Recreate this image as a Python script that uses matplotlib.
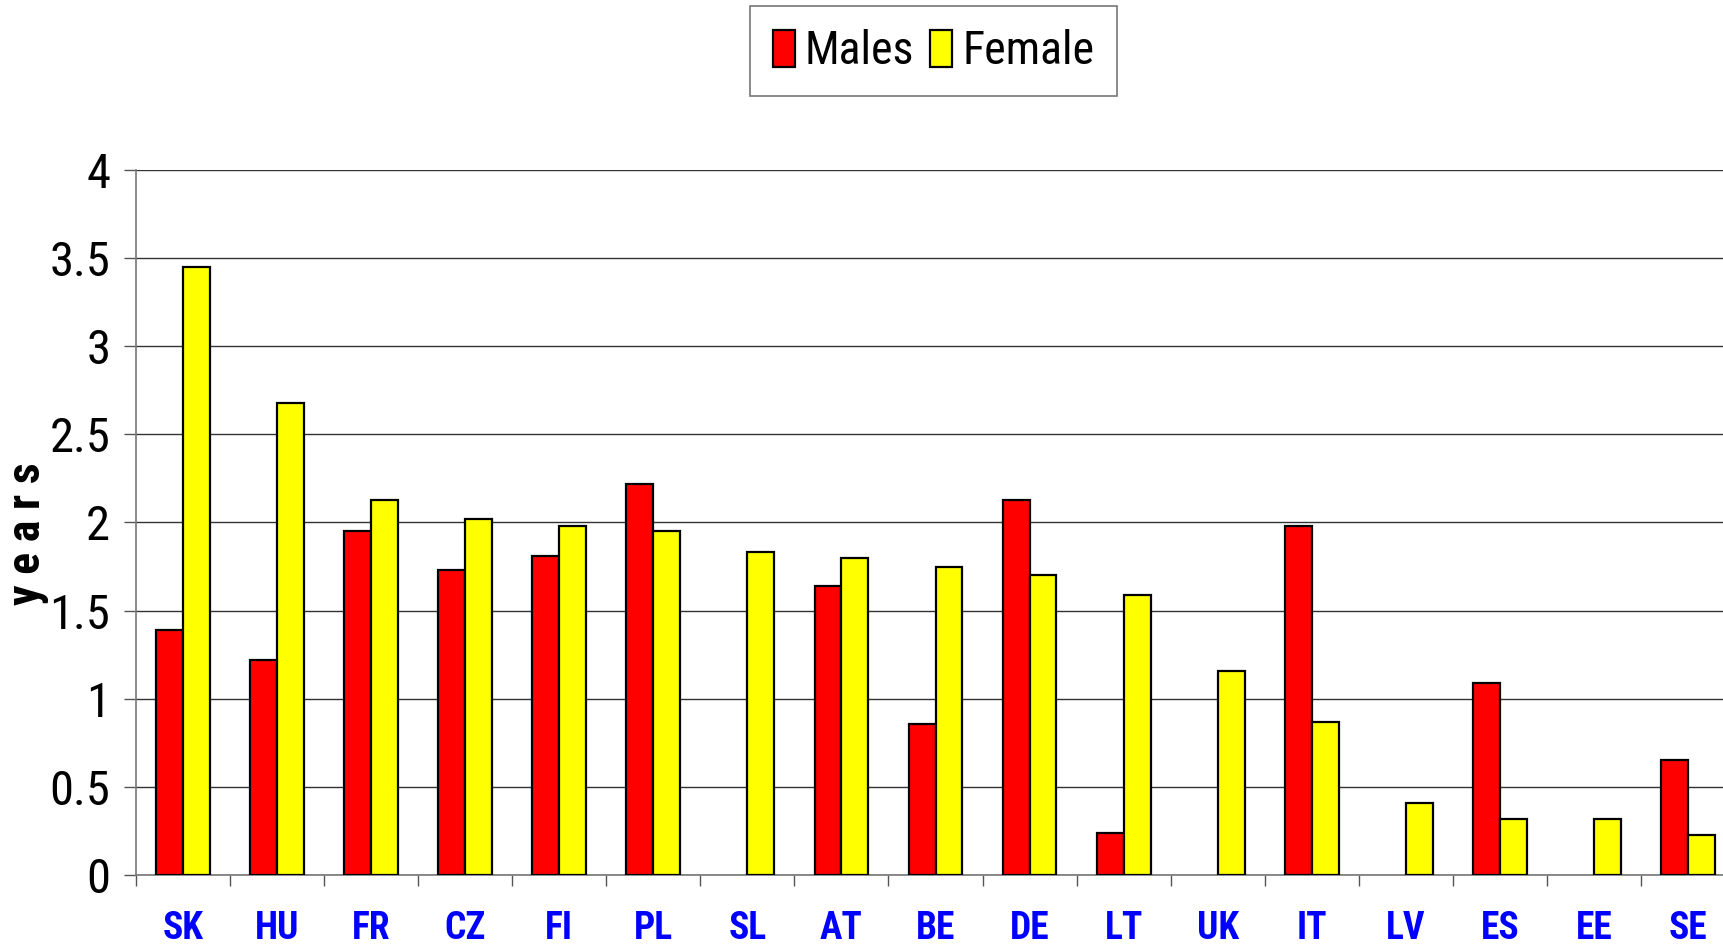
import matplotlib
matplotlib.use("Agg")
import matplotlib.pyplot as plt
from matplotlib import font_manager
import numpy as np

countries = ["SK", "HU", "FR", "CZ", "FI", "PL", "SL", "AT", "BE", "DE",
             "LT", "UK", "IT", "LV", "ES", "EE", "SE"]
males = [1.39, 1.22, 1.95, 1.73, 1.81, 2.22, np.nan, 1.64, 0.855, 2.13,
         0.24, np.nan, 1.98, np.nan, 1.09, np.nan, 0.65]
females = [3.45, 2.68, 2.13, 2.02, 1.98, 1.95, 1.83, 1.80, 1.75, 1.70,
           1.59, 1.155, 0.87, 0.41, 0.32, 0.32, 0.225]
yticks = [0, 0.5, 1, 1.5, 2, 2.5, 3, 3.5, 4]
ytick_labels = ["0", "0.5", "1", "1.5", "2", "2.5", "3", "3.5", "4"]

fl = font_manager.fontManager.ttflist
names = {f.name for f in fl}
bold_names = {f.name for f in fl if (isinstance(f.weight, int) and f.weight >= 700)
              or f.weight in ("bold", "heavy", "black")}
cands = ["Arial Narrow", "Liberation Sans Narrow", "Roboto Condensed",
         "Archivo Narrow", "PT Sans Narrow", "Pragati Narrow",
         "Barlow Semi Condensed", "Asap Condensed"]
FONT = next((c for c in cands if c in names), "Liberation Sans")
BFONT = next((c for c in cands if c in bold_names), FONT)
plt.rcParams["font.family"] = [FONT, "DejaVu Sans"]

fig = plt.figure(figsize=(17.24, 9.48), dpi=100)
ax = fig.add_axes([0.0789, 0.077, 0.9275, 0.7437])

x = np.arange(len(countries))
w = 0.286
ax.bar(x - w / 2, males, width=w, color="#FF0000", edgecolor="black",
       linewidth=1.6, label="Males", zorder=3)
ax.bar(x + w / 2, females, width=w, color="#FFFF00", edgecolor="black",
       linewidth=1.6, label="Female", zorder=3)

ax.set_xlim(-0.5, len(countries) - 0.5)
ax.set_ylim(0, 4)
ax.set_yticks(yticks)
ax.set_yticklabels(ytick_labels, fontsize=35)
ax.tick_params(axis="y", length=8.6, width=1, color="#555555", pad=10)
ax.set_xticks(x)
ax.set_xticklabels(countries, fontsize=27, fontweight="bold", color="#0000FF",
                   family=[BFONT, "DejaVu Sans"])
ax.tick_params(axis="x", which="major", length=0, pad=25)
ax.set_xticks(np.arange(len(countries) + 1) - 0.5, minor=True)
ax.tick_params(axis="x", which="minor", length=8, width=1, color="#555555")

ax.grid(axis="y", color="#333333", linewidth=1.0, zorder=0)
for s in ["top", "right"]:
    ax.spines[s].set_visible(False)
for s in ["left", "bottom"]:
    ax.spines[s].set_color("#777777")
    ax.spines[s].set_linewidth(1.2)

fig.text(27 / 1724, 0.4375, "y e a r s", rotation=90, fontsize=33,
         fontweight="bold", ha="center", va="center",
         family=[BFONT, "DejaVu Sans"])

leg = fig.legend(loc="center", bbox_to_anchor=(0.5415, 0.946), fontsize=33,
                 ncol=2, frameon=True, fancybox=False, handlelength=0.48,
                 handleheight=0.85, handletextpad=0.22, columnspacing=0.35,
                 borderpad=0.5, borderaxespad=0)
leg.get_frame().set_edgecolor("#555555")
leg.get_frame().set_linewidth(1.2)

fig.savefig("out.png", dpi=100)
